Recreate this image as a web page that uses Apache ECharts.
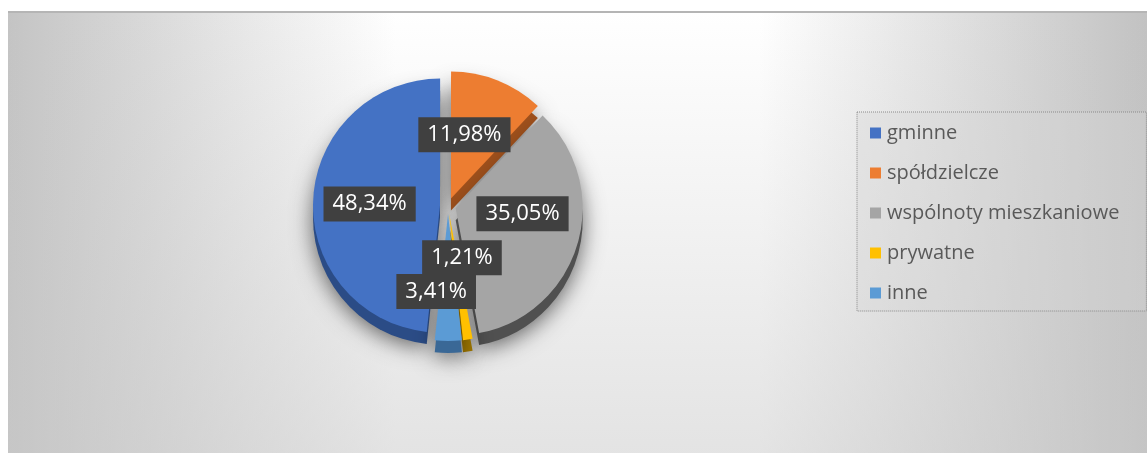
<!DOCTYPE html>
<html>
<head>
<meta charset="utf-8">
<script src="https://cdn.jsdelivr.net/npm/echarts@6/dist/echarts.min.js"></script>
<style>
  html, body { margin: 0; padding: 0; background: #fff; }
  #chart { width: 1147px; height: 453px; }
</style>
</head>
<body>
<div id="chart"></div>
<script>
// dane z wykresu (udział procentowy)
var categories = ['gminne', 'spółdzielcze', 'wspólnoty mieszkaniowe', 'prywatne', 'inne'];
var shares = [48.34, 11.98, 35.05, 1.21, 3.41];

var topColors = ['#4472C4', '#ED7D31', '#A5A5A5', '#FFC000', '#5B9BD5'];
var sideColors = ['#2B4C86', '#9E501C', '#505050', '#A07800', '#3A6896'];

// przesunięcia etykiet (wg dataIndex)
var labelShift = [[-4, 2], [-11, -2], [3, -13], [3, -22], [-12, 11]];

var center = [448, 206];
var radius = 127;
var depth = 12;

function fmt(v) {
    return v.toFixed(2).replace('.', ',') + '%';
}

function buildData(colors) {
    return categories.map(function (name, i) {
        return { name: name, value: shares[i], selected: true, itemStyle: { color: colors[i] } };
    });
}

var chart = echarts.init(document.getElementById('chart'));

var option = {
    animation: false,
    backgroundColor: '#ffffff',
    graphic: [
        {
            type: 'rect', z: -10, silent: true,
            shape: { x: 8, y: 11, width: 1139, height: 442 },
            style: {
                fill: new echarts.graphic.LinearGradient(0, 0, 1, 0, [
                    { offset: 0, color: '#c4c4c4' },
                    { offset: 0.34, color: '#ffffff' },
                    { offset: 0.66, color: '#ffffff' },
                    { offset: 1, color: '#c2c2c2' }
                ])
            }
        },
        {
            type: 'rect', z: -9, silent: true,
            shape: { x: 8, y: 11, width: 1139, height: 442 },
            style: {
                fill: new echarts.graphic.LinearGradient(0, 0, 0, 1, [
                    { offset: 0, color: 'rgba(200,200,200,0)' },
                    { offset: 1, color: 'rgba(200,200,200,0.5)' }
                ])
            }
        },
        {
            type: 'line', z: -8, silent: true,
            shape: { x1: 8, y1: 12, x2: 1147, y2: 12 },
            style: { stroke: '#b5b5b5', lineWidth: 2 }
        }
    ],
    legend: {
        orient: 'vertical',
        left: 857,
        top: 112,
        padding: [11, 27, 8, 13],
        itemGap: 20,
        itemWidth: 11,
        itemHeight: 11,
        icon: 'rect',
        backgroundColor: 'rgba(215,215,215,0.35)',
        borderColor: '#8a8a8a',
        borderWidth: 1,
        borderType: 'dotted',
        selectedMode: false,
        data: categories,
        textStyle: {
            color: '#595959',
            fontSize: 20,
            lineHeight: 20,
            fontFamily: 'Open Sans',
            padding: [0, 0, 0, 1]
        }
    },
    series: [
        {
            name: 'udział',
            type: 'pie',
            silent: true,
            z: 3,
            center: center,
            radius: [0, radius],
            startAngle: 264,
            clockwise: true,
            selectedMode: 'multiple',
            selectedOffset: 8,
            itemStyle: { borderWidth: 0 },
            label: {
                show: true,
                position: 'inside',
                formatter: function (p) { return fmt(p.value); },
                color: '#ffffff',
                fontSize: 22,
                fontFamily: 'Open Sans',
                backgroundColor: '#404040',
                padding: [7, 9, 6, 9]
            },
            labelLine: { show: false },
            labelLayout: function (p) {
                var s = labelShift[p.dataIndex] || [0, 0];
                return { dx: s[0], dy: s[1] };
            },
            data: buildData(topColors)
        },
        {
            name: 'bok',
            type: 'pie',
            silent: true,
            z: 2,
            center: [center[0], center[1] + depth],
            radius: [0, radius],
            startAngle: 264,
            clockwise: true,
            selectedMode: 'multiple',
            selectedOffset: 8,
            legendHoverLink: false,
            label: { show: false },
            labelLine: { show: false },
            itemStyle: {
                shadowBlur: 22,
                shadowColor: 'rgba(0,0,0,0.6)',
                shadowOffsetY: 4
            },
            data: buildData(sideColors)
        }
    ]
};

chart.setOption(option);
</script>
</body>
</html>
